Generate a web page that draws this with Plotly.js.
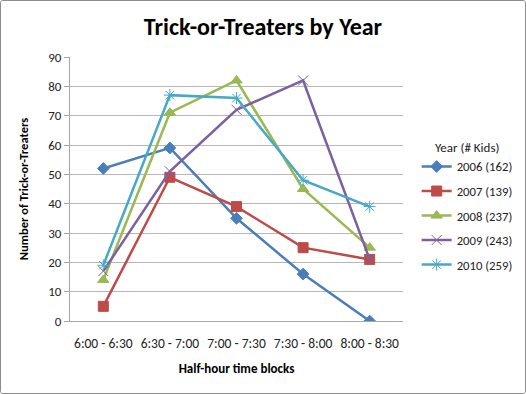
<!DOCTYPE html>
<html><head><meta charset="utf-8">
<script src="https://cdn.plot.ly/plotly-3.0.1.min.js"></script>
<style>
html,body{margin:0;padding:0;background:#fff;}
#wrap{width:524px;height:392px;border:1px solid #8c8c8c;border-radius:3px;overflow:hidden;position:relative;}
#chart{width:600px;height:392px;}
</style></head>
<body><div id="wrap"><div id="chart"></div></div>
<script>
const categories = ["6:00 - 6:30","6:30 - 7:00","7:00 - 7:30","7:30 - 8:00","8:00 - 8:30"];
const seriesNames = ["2006 (162)","2007 (139)","2008 (237)","2009 (243)","2010 (259)"];
const v2006 = [52,59,35,16,0];
const v2007 = [5,49,39,25,21];
const v2008 = [14,71,82,45,25];
const v2009 = [17,51,72,82,21];
const v2010 = [19,77,76,48,39];
const yTicks = [0,10,20,30,40,50,60,70,80,90];

const values = [v2006,v2007,v2008,v2009,v2010];
const colors = ["#4A7EBB","#BE4B48","#98B954","#7D60A0","#46AAC5"];
const symbols = ["diamond","square","triangle-up","x-thin-open","asterisk-open"];
const sizes = [9,10,10,10,10];
const FONT = "Carlito, Lato, 'Open Sans', sans-serif";

const traces = values.map((v,i)=>({
  x: categories, y: v, name: seriesNames[i], type:"scatter", mode:"lines+markers",
  legendgroup: "g"+i,
  line:{color:colors[i], width:2.5},
  marker:{symbol:symbols[i], size:sizes[i], color:colors[i], line:{color:colors[i], width:1}}
}));

const layout = {
  width:600, height:392,
  margin:{l:69,r:198,t:56,b:72},
  paper_bgcolor:"#fff", plot_bgcolor:"#fff",
  font:{family:FONT, size:11, color:"#222"},
  title:{text:"<b>Trick-or-Treaters by Year</b>", font:{family:FONT,size:24,color:"#000"}, x:262/600, xanchor:"center", y:0.935, yanchor:"middle"},
  showlegend:true,
  legend:{title:{text:"Year (# Kids)", side:"top center", font:{size:13,color:"#222"}}, x:1.041, xanchor:"left", y:0.705, yanchor:"top",
          font:{size:12.7,color:"#222"}, tracegroupgap:5, itemwidth:30},
  xaxis:{type:"category", range:[-0.5,4.5], showgrid:false, showline:true, linecolor:"#A6A6A6", linewidth:1,
         ticks:"", ticklabelstandoff:10, tickfont:{size:13.5,color:"#222"},
         title:{text:"<b>Half-hour time blocks</b>", font:{size:13,color:"#000"}, standoff:12}},
  yaxis:{range:[0,90], tickvals:yTicks, showgrid:true, gridcolor:"#B7B7B7", gridwidth:1,
         showline:true, linecolor:"#A6A6A6", linewidth:1, ticks:"outside", ticklen:5, tickcolor:"#A6A6A6",
         zeroline:false, tickfont:{size:13,color:"#222"},
         title:{text:"<b>Number of Trick-or-Treaters</b>", font:{size:12.5,color:"#000"}, standoff:16}}
};
Plotly.newPlot("chart", traces, layout, {displayModeBar:false, staticPlot:true});
</script></body></html>
